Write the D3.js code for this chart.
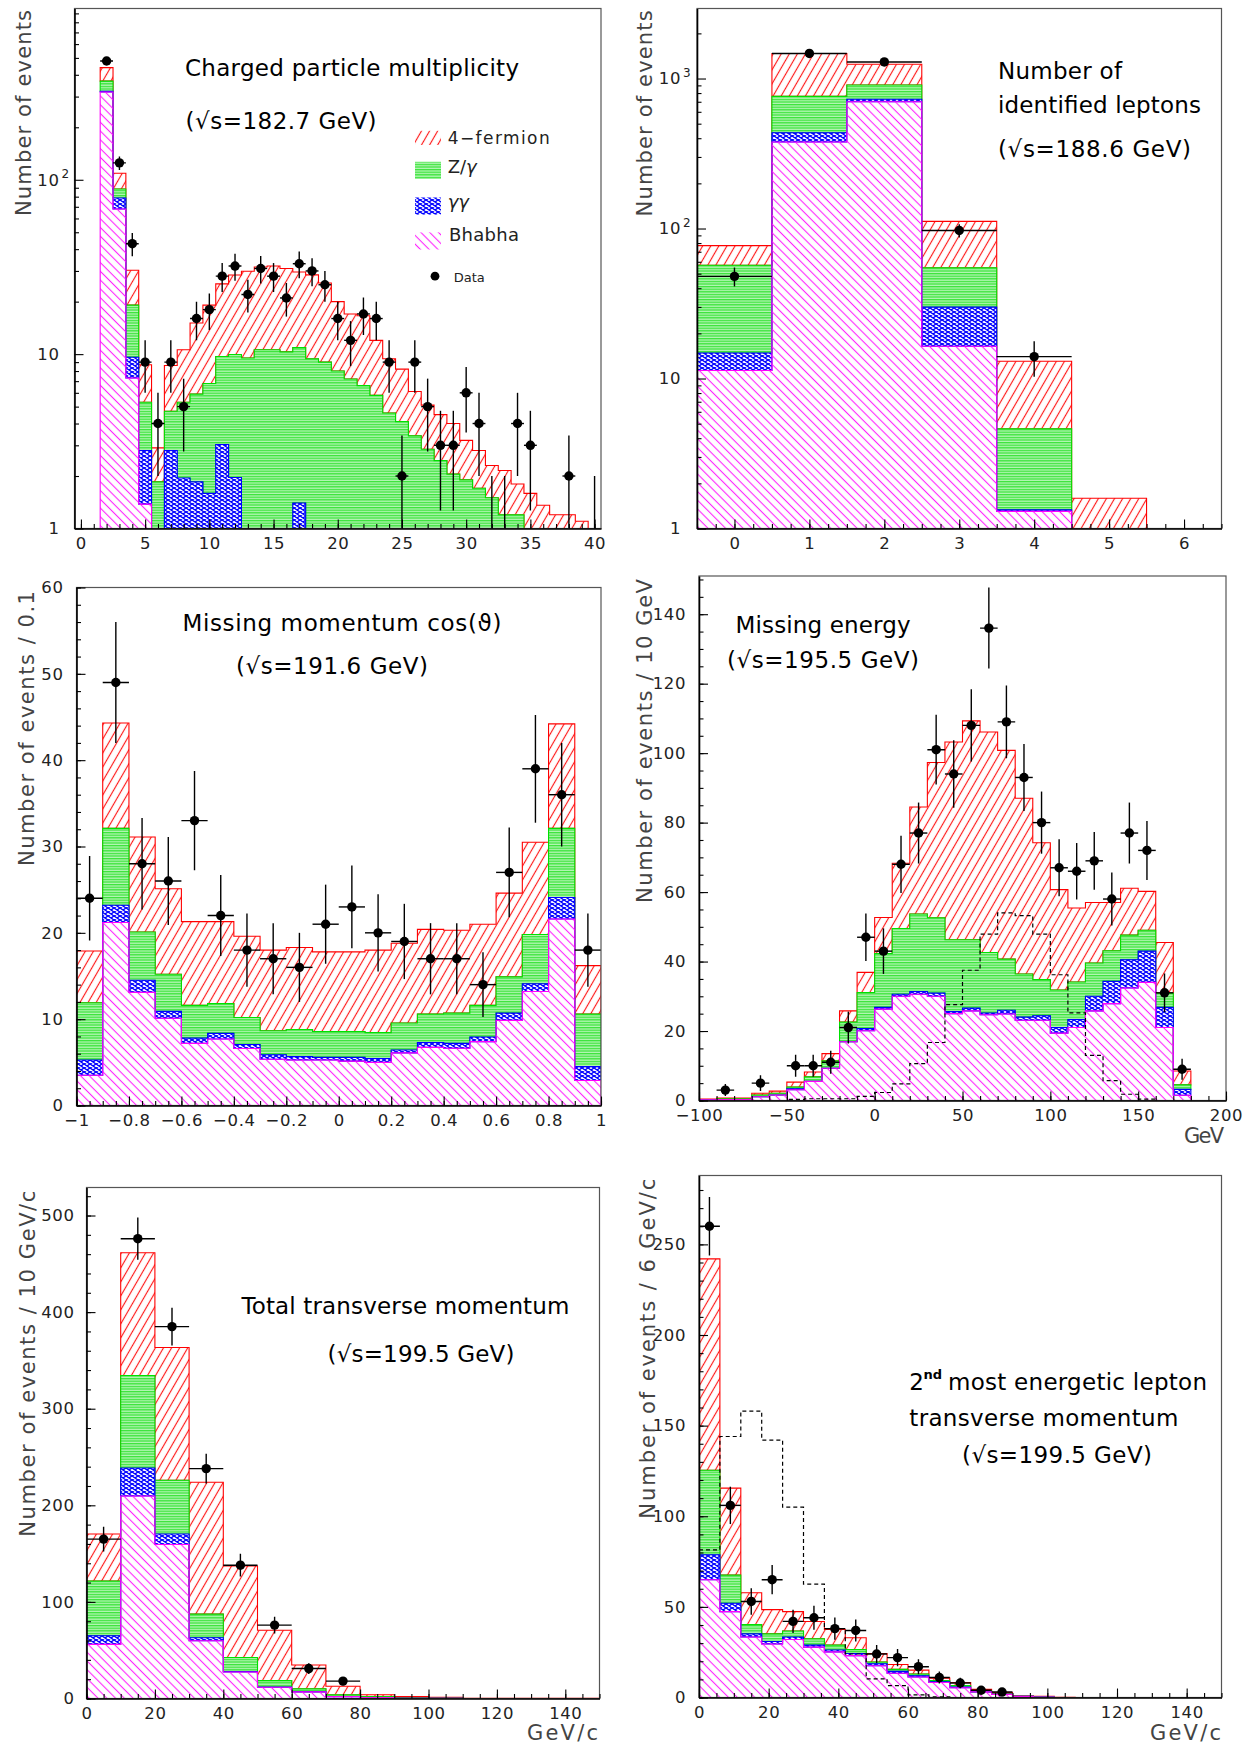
<!DOCTYPE html>
<html><head><meta charset="utf-8">
<script src="https://cdn.jsdelivr.net/npm/d3@7"></script>
<style>
body{margin:0;background:#fff}
svg{display:block}
text{font-family:"DejaVu Sans",sans-serif}
</style>
</head><body>
<svg id="chart" width="1258" height="1745"></svg>
<script>
// ===================== DATA =====================
// Panel 1: charged particle multiplicity (log y), bin centres
const multBins   = [2,3,4,5,6,7,8,9,10,11,12,13,14,15,16,17,18,19,20,21,22,23,24,25,26,27,28,29,30,31,32,33,34,35,36,37,38,39];
const multBhabha = [319,68,7.3,1.38,0,0,0,0,0,0,0,0,0,0,0,0,0,0,0,0,0,0,0,0,0,0,0,0,0,0,0,0,0,0,0,0,0,0];
const multGG     = [3,10.6,2.3,1.42,0,2.8,1.95,1.85,1.59,3.03,1.96,0,0,0,0,1.4,0,0,0,0,0,0,0,0,0,0,0,0,0,0,0,0,0,0,0,0,0,0];
const multZ      = [46,9.9,9.5,2.5,1.85,1.9,3.35,4.05,5.2,6.67,8.0,9.5,10.6,10.6,10.3,9.5,9.4,9.0,8.0,7.2,6.6,5.8,4.6,4.1,3.4,2.85,2.45,2.05,1.9,1.7,1.5,1.2,1.2,0,0,0,0,0];
const multFour   = [72,20.5,11.2,3.4,1.05,3.9,5.3,9.2,12.3,15.6,18.5,20.4,21.0,21.4,20.7,18.7,19.1,16.6,12.0,9.8,10.0,6.2,4.8,4.1,2.7,2.25,2.05,1.95,1.3,1.1,0.8,0.95,0.6,1.59,1.36,1.2,1.2,1.1];
const multDataX  = [2,3,4,5,6,7,8,9,10,11,12,13,14,15,16,17,18,19,20,21,22,23,24,25,26,27,28,29,30,31,32,33,34,35,36,37,38,39,40];
const multData   = [480,125,43,9,4,9,5,16,18,28,32,22,31,28,21,33,30,25,16,12,17,16,9,2,9,5,3,3,6,4,1,1,4,3,0,0,2,0,1];

// Panel 2: number of identified leptons (log y)
const lepBins   = [0,1,2,3,4,5];
const lepBhabha = [11.3,377,700,16.4,1.3,0];
const lepGG     = [3.5,58,28,13.5,0.03,0];
const lepZ      = [42.1,325,178,24.8,3.29,0];
const lepFour   = [20,708,339,56.9,8.4,1.59];
const lepDataX  = [0,1,2,3,4];
const lepData   = [48,1470,1290,97,14];

// Panel 3: missing momentum cos(theta)
const cosBins   = [-0.95,-0.85,-0.75,-0.65,-0.55,-0.45,-0.35,-0.25,-0.15,-0.05,0.05,0.15,0.25,0.35,0.45,0.55,0.65,0.75,0.85,0.95];
const cosBhabha = [3.5,21.2,13.1,10.1,7.2,7.7,6.6,5.36,5.27,5.27,5.14,5.0,6.09,6.73,6.64,7.4,9.86,13.2,21.6,2.9];
const cosGG     = [1.77,2.0,1.4,0.8,0.6,0.66,0.47,0.51,0.39,0.3,0.43,0.44,0.34,0.56,0.56,0.53,0.84,0.9,2.5,1.6];
const cosZ      = [6.63,8.9,5.6,4.3,3.8,3.44,3.13,2.79,3.14,3.0,3.0,3.0,3.13,3.31,3.5,3.67,4.2,5.7,8.0,6.1];
const cosFour   = [6.0,12.2,11.0,9.9,9.7,9.5,9.4,9.34,9.5,9.23,9.23,9.56,9.24,9.8,9.6,9.4,9.7,10.7,12.1,5.6];
const cosData   = [24,49,28,26,33,22,18,17,16,21,23,20,19,17,17,14,27,39,36,18];

// Panel 4: missing energy
const emBins    = [-95,-85,-75,-65,-55,-45,-35,-25,-15,-5,5,15,25,35,45,55,65,75,85,95,105,115,125,135,145,155,165,175];
const emBhabha  = [0.2,0.3,0.3,1.1,1.6,3.1,5.5,9.3,16.9,20.1,26.3,30.0,30.6,30.0,25.0,25.8,24.7,24.9,23.1,23.1,19.4,21.0,25.8,27.9,32.4,34.0,21.0,1.5];
const emGG      = [0,0,0,0,0,0.3,0,0,0,0.6,0.5,0.6,0.8,0.9,0.6,0.8,0.5,1.1,0.9,1.3,1.6,2.3,4.2,6.4,8.1,9.0,5.8,1.7];
const emZ       = [0.1,0.2,0.2,0.5,0.5,0.5,1.3,2.1,5.7,10.4,15.5,18.9,22.3,21.7,20.7,19.7,17.4,14.7,12.4,10.4,10.8,10.8,9.6,8.8,7.1,6.0,4.1,1.3];
const emFour    = [0.1,0.2,0.2,0.5,0.6,1.4,1.4,2.1,3.2,5.8,10.4,18.8,30.8,44.7,56.9,63.0,63.5,60.1,50.6,39.4,28.9,21.3,17.4,13.9,13.5,11.2,14.6,4.0];
const emSignal  = [0,0,0,0,0,0.3,0.5,0.5,0.5,1.2,2.3,4.8,10.6,16.7,27.6,37.5,47.9,54.0,53.2,47.9,36.2,25.2,13.0,5.7,1.8,0.4,0,0];
const emDataX   = [-85,-65,-45,-35,-25,-15,-5,5,15,25,35,45,55,65,75,85,95,105,115,125,135,145,155,165,175];
const emData    = [3,5,10,10,11,21,47,43,68,77,101,94,108,136,109,93,80,67,66,69,58,77,72,31,9];

// Panel 5: total transverse momentum
const ptBins    = [5,15,25,35,45,55,65,75,85,95,105,115,125,135,145];
const ptBhabha  = [56.0,209.7,159.5,59.8,27.4,11.6,6.9,1.9,1.0,0.3,0.2,0,0,0,0];
const ptGG      = [8.9,28.9,10.8,3.1,0.5,0.3,0.2,0.1,0.1,0,0,0,0,0,0];
const ptZ       = [56.7,95.8,55.6,24.4,14.6,6.6,2.9,1.9,0.8,0.3,0.2,0,0,0,0];
const ptFour    = [48.7,127.0,137.4,136.6,94.6,52.2,24.7,8.8,2.0,1.3,0.8,0.3,0.2,0.1,0.1];
const ptDataX   = [5,15,25,35,45,55,65,75];
const ptData    = [165,476,385,238,138,76,31,18];

// Panel 6: 2nd most energetic lepton transverse momentum
const lpBins    = [3,9,15,21,27,33,39,45,51,57,63,69,75,81,87,93,99,105,111,117,123,129,135,141,147];
const lpBhabha  = [65.0,47.4,33.4,29.5,32.0,27.8,25.2,23.1,17.5,13.4,11.3,8.3,5.4,3.1,1.7,0.6,0.3,0,0,0,0,0,0,0,0];
const lpGG      = [13.8,4.6,1.7,1.4,1.4,1.1,1.0,1.2,1.1,1.0,0.7,0.4,0.4,0,0,0,0,0,0,0,0,0,0,0,0];
const lpZ       = [46.6,15.5,5.1,4.2,3.3,3.5,2.7,2.1,1.0,1.1,1.0,0.6,0.8,0.6,0.4,0.2,0.1,0,0,0,0,0,0,0,0];
const lpFour    = [116.6,48.0,17.6,13.4,10.7,9.5,8.6,6.6,4.7,2.7,2.1,1.4,1.7,0.8,0.6,0.2,0.2,0.1,0,0,0,0,0,0,0];
const lpSignal  = [81.5,144,158,142,105,62.5,38,24,10.3,6.6,1.4,0.4,0,0,0,0,0,0,0,0,0,0,0,0,0];
const lpDataX   = [3,9,15,21,27,33,39,45,51,57,63,69,75,81,87];
const lpData    = [260,106,53,65,42,44,38,37,24,22,17,11,8,4,3];

// Tick labels
const multXTicks = [0,5,10,15,20,25,30,35,40];
const logYTicks1 = [1,10,100];
const lepXTicks  = [0,1,2,3,4,5,6];
const logYTicks2 = [1,10,100,1000];
const cosXTicks  = [-1,-0.8,-0.6,-0.4,-0.2,0,0.2,0.4,0.6,0.8,1];
const cosYTicks  = [0,10,20,30,40,50,60];
const emXTicks   = [-100,-50,0,50,100,150,200];
const emYTicks   = [0,20,40,60,80,100,120,140];
const ptXTicks   = [0,20,40,60,80,100,120,140];
const ptYTicks   = [0,100,200,300,400,500];
const lpXTicks   = [0,20,40,60,80,100,120,140];
const lpYTicks   = [0,50,100,150,200,250];

// ===================== DRAWING =====================
const svg = d3.select("#chart");
svg.append("rect").attr("width",1258).attr("height",1745).attr("fill","#fff");
const defs = svg.append("defs");

function linePattern(id, spacing, angle, color, sw) {
  const p = defs.append("pattern").attr("id", id).attr("patternUnits","userSpaceOnUse")
    .attr("width", spacing).attr("height", 20).attr("patternTransform", `rotate(${angle})`);
  p.append("line").attr("x1", spacing/2).attr("x2", spacing/2).attr("y1", -1).attr("y2", 21)
    .attr("stroke", color).attr("stroke-width", sw);
}
linePattern("pFour", 7, 30, "#ff1a1a", 1.15);
linePattern("pBhabha", 6.2, -45, "#ff22ff", 1.1);
{
  const p = defs.append("pattern").attr("id","pZ").attr("patternUnits","userSpaceOnUse").attr("width",4).attr("height",2.6);
  p.append("rect").attr("width",4).attr("height",2.6).attr("fill","#b6f6b6");
  p.append("rect").attr("width",4).attr("height",1.3).attr("fill","#3ae33a");
}
{
  const p = defs.append("pattern").attr("id","pGG").attr("patternUnits","userSpaceOnUse").attr("width",6).attr("height",4);
  p.append("rect").attr("width",6).attr("height",4).attr("fill","#ffffff");
  p.append("path").attr("d","M0,0L6,4M0,4L6,0").attr("stroke","#0000ff").attr("stroke-width",1.4);
}
const fills   = {four:"url(#pFour)", z:"url(#pZ)", gg:"url(#pGG)", bhabha:"url(#pBhabha)"};
const strokes = {four:"#ff0000", z:"#00e000", gg:"#0000ff", bhabha:"#ff00ff"};

const fmtNum = v => (v < 0 ? "\u2212" : "") + String(+Math.abs(v).toFixed(2));

function styleAxis(sel, lw) {
  sel.attr("font-family", null).attr("font-size", null);
  sel.select(".domain").attr("stroke","#000").attr("stroke-width", lw);
  sel.selectAll(".tick line").attr("stroke","#000").attr("stroke-width",1.1);
  sel.selectAll(".tick text").attr("font-family","DejaVu Sans").attr("font-size",16.5)
     .attr("fill","#222").attr("letter-spacing","0.6px");
}

let clipN = 0;
function drawPanel(cfg) {
  const {L,T,R,B} = cfg.frame;
  const x = d3.scaleLinear().domain(cfg.xDomain).range([L,R]);
  const y = cfg.log ? d3.scaleLog().domain(cfg.yDomain).range([B,T])
                    : d3.scaleLinear().domain(cfg.yDomain).range([B,T]);
  const yMin = cfg.yDomain[0];
  const yy = v => y(Math.max(v, yMin));
  const cid = "clip" + (clipN++);
  defs.append("clipPath").attr("id", cid).append("rect")
    .attr("x", L).attr("y", T).attr("width", R-L).attr("height", B-T);
  const g = svg.append("g");
  const gc = g.append("g").attr("clip-path", `url(#${cid})`);

  // stacked histogram
  const rows = cfg.bins.map((c,i) => ({c, bhabha:cfg.bhabha[i], gg:cfg.gg[i], z:cfg.z[i], four:cfg.four[i]}));
  const series = d3.stack().keys(["bhabha","gg","z","four"])(rows);
  const hw = cfg.binWidth/2;
  const area = d3.area().x(p => x(p.x)).y0(p => yy(p.y0)).y1(p => yy(p.y1));
  series.slice().reverse().forEach(s => {
    const pts = [];
    s.forEach(d => {
      pts.push({x:d.data.c-hw, y0:d[0], y1:d[1]});
      pts.push({x:d.data.c+hw, y0:d[0], y1:d[1]});
    });
    gc.append("path").attr("d", area(pts)).attr("fill", fills[s.key])
      .attr("stroke", strokes[s.key]).attr("stroke-width", 1.1);
  });

  // dashed signal histogram
  if (cfg.signal) {
    const pts = [];
    cfg.bins.forEach((c,i) => { pts.push([c-hw, cfg.signal[i]]); pts.push([c+hw, cfg.signal[i]]); });
    gc.append("path").attr("d", d3.line().x(p => x(p[0])).y(p => yy(p[1]))(pts))
      .attr("fill","none").attr("stroke","#000").attr("stroke-width",1.2).attr("stroke-dasharray","4,3");
  }

  // data points
  cfg.dataX.forEach((c,i) => {
    const n = cfg.data[i];
    if (n <= 0) return;
    const e = Math.sqrt(n);
    gc.append("line").attr("x1", x(c)).attr("x2", x(c)).attr("y1", yy(n-e)).attr("y2", yy(n+e))
      .attr("stroke","#000").attr("stroke-width",1.4);
    if (cfg.log && n <= yMin) return;
    gc.append("line").attr("x1", x(c-hw)).attr("x2", x(c+hw)).attr("y1", y(n)).attr("y2", y(n))
      .attr("stroke","#000").attr("stroke-width",1.4);
    gc.append("circle").attr("cx", x(c)).attr("cy", y(n)).attr("r", 4.7).attr("fill","#000");
  });

  // frame
  g.append("rect").attr("x", L).attr("y", T).attr("width", R-L).attr("height", B-T)
    .attr("fill","none").attr("stroke","#555").attr("stroke-width",1.2);

  // x axis
  const xa = g.append("g").attr("transform", `translate(0,${B})`)
    .call(d3.axisBottom(x).tickValues(cfg.xTicks).tickSize(-9).tickSizeOuter(0).tickPadding(9).tickFormat(fmtNum));
  styleAxis(xa, 1.6);
  const xm = g.append("g").attr("transform", `translate(0,${B})`)
    .call(d3.axisBottom(x).tickValues(cfg.xMinor).tickSize(-4.5).tickSizeOuter(0).tickFormat(() => ""));
  xm.select(".domain").remove();
  xm.selectAll(".tick line").attr("stroke","#000").attr("stroke-width",1.1);

  // y axis
  if (cfg.log) {
    const ya = g.append("g").attr("transform", `translate(${L},0)`)
      .call(d3.axisLeft(y).tickValues(cfg.yTicks).tickSize(-9).tickSizeOuter(0).tickFormat(() => ""));
    styleAxis(ya, 1.6);
    const ym = g.append("g").attr("transform", `translate(${L},0)`)
      .call(d3.axisLeft(y).tickValues(cfg.yMinor).tickSize(-4.5).tickSizeOuter(0).tickFormat(() => ""));
    ym.select(".domain").remove();
    ym.selectAll(".tick line").attr("stroke","#000").attr("stroke-width",1.1);
    cfg.yTicks.forEach(v => {
      const ex = Math.round(Math.log10(v));
      const yv = y(v);
      g.append("text").attr("x", L - cfg.yPad).attr("y", yv).attr("dy","0.36em")
        .attr("text-anchor","end").attr("font-size",16.5).attr("fill","#222").attr("letter-spacing","0.6px")
        .text(ex === 0 ? "1" : "10");
      if (ex >= 2) {
        g.append("text").attr("x", L - cfg.yPad + 2).attr("y", yv - 2)
          .attr("font-size",12).attr("fill","#222").text(ex);
      }
    });
  } else {
    const ya = g.append("g").attr("transform", `translate(${L},0)`)
      .call(d3.axisLeft(y).tickValues(cfg.yTicks).tickSize(-9).tickSizeOuter(0).tickPadding(cfg.yPad).tickFormat(fmtNum));
    styleAxis(ya, 1.6);
    const ym = g.append("g").attr("transform", `translate(${L},0)`)
      .call(d3.axisLeft(y).tickValues(cfg.yMinor).tickSize(-4.5).tickSizeOuter(0).tickFormat(() => ""));
    ym.select(".domain").remove();
    ym.selectAll(".tick line").attr("stroke","#000").attr("stroke-width",1.1);
  }

  // y axis title
  g.append("text").attr("transform", `translate(${cfg.yTitle.x},${cfg.yTitle.top}) rotate(-90)`)
    .attr("text-anchor","end").attr("font-size",21).attr("fill","#444")
    .attr("textLength", cfg.yTitle.len).attr("lengthAdjust","spacing").text(cfg.yTitle.text);

  // x unit label
  if (cfg.xTitle) {
    g.append("text").attr("x", cfg.xTitle.x - cfg.xTitle.len).attr("y", cfg.xTitle.y)
      .attr("font-size",21).attr("fill","#444").attr("textLength", cfg.xTitle.len)
      .attr("lengthAdjust","spacing").text(cfg.xTitle.text);
  }
  return g;
}

function label(x, y, text, len, size) {
  const t = svg.append("text").attr("x", x).attr("y", y).attr("font-size", size || 23).attr("fill","#000").text(text);
  if (len) t.attr("textLength", len).attr("lengthAdjust","spacing");
  return t;
}

// Panel 1
drawPanel({
  frame:{L:74.5,T:8.5,R:601,B:528.5}, xDomain:[-0.5,40.5], yDomain:[1,960], log:true,
  bins:multBins, bhabha:multBhabha, gg:multGG, z:multZ, four:multFour, binWidth:1,
  dataX:multDataX, data:multData,
  xTicks:multXTicks, xMinor:d3.range(0,41,1), yTicks:logYTicks1,
  yMinor:[2,3,4,5,6,7,8,9,20,30,40,50,60,70,80,90,200,300,400,500,600,700,800,900], yPad:15,
  yTitle:{x:31, top:10, len:206, text:"Number of events"}
});
label(185, 76, "Charged particle multiplicity", 334);
label(185.6, 128.5, "(\u221As=182.7 GeV)", 191);
// legend
const lg = svg.append("g");
[["four",130.8,145],["z",161.8,179],["gg",197.5,214.6],["bhabha",232.4,249.5]].forEach(([k,y0,y1]) => {
  lg.append("rect").attr("x",415).attr("y",y0).attr("width",26).attr("height",y1-y0).attr("fill",fills[k]);
});
lg.append("text").attr("x",447.7).attr("y",144).attr("font-size",17).attr("fill","#222")
  .attr("textLength",102).attr("lengthAdjust","spacing").text("4\u2212fermion");
{
  const t = lg.append("text").attr("x",447.7).attr("y",172.5).attr("font-size",18).attr("fill","#222");
  t.append("tspan").text("Z/");
  t.append("tspan").attr("font-style","italic").text("\u03B3");
  const t2 = lg.append("text").attr("x",447.7).attr("y",207.5).attr("font-size",18).attr("fill","#222")
    .attr("font-style","italic").text("\u03B3\u03B3");
}
lg.append("text").attr("x",449).attr("y",241.3).attr("font-size",18).attr("fill","#222")
  .attr("textLength",70).attr("lengthAdjust","spacing").text("Bhabha");
lg.append("circle").attr("cx",435).attr("cy",276.2).attr("r",4.4).attr("fill","#000");
lg.append("text").attr("x",453.7).attr("y",281.6).attr("font-size",13).attr("fill","#222").text("Data");

// Panel 2
drawPanel({
  frame:{L:697,T:8.5,R:1221.5,B:528.5}, xDomain:[-0.5,6.5], yDomain:[1,2930], log:true,
  bins:lepBins, bhabha:lepBhabha, gg:lepGG, z:lepZ, four:lepFour, binWidth:1,
  dataX:lepDataX, data:lepData,
  xTicks:lepXTicks, xMinor:d3.range(-0.5,6.51,0.25), yTicks:logYTicks2,
  yMinor:[2,3,4,5,6,7,8,9,20,30,40,50,60,70,80,90,200,300,400,500,600,700,800,900,2000], yPad:16,
  yTitle:{x:652, top:10.4, len:206, text:"Number of events"}
});
label(998, 79, "Number of", 124);
label(998, 112.8, "identified leptons", 203);
label(998, 157, "(\u221As=188.6 GeV)", 193);

// Panel 3
drawPanel({
  frame:{L:76.5,T:587.5,R:601,B:1105.5}, xDomain:[-1,1], yDomain:[0,60], log:false,
  bins:cosBins, bhabha:cosBhabha, gg:cosGG, z:cosZ, four:cosFour, binWidth:0.1,
  dataX:cosBins, data:cosData,
  xTicks:cosXTicks, xMinor:d3.range(-1,1.001,0.05), yTicks:cosYTicks, yMinor:d3.range(0,60.1,2), yPad:13,
  yTitle:{x:33.5, top:591, len:275, text:"Number of events / 0.1"}
});
label(182.4, 630.6, "Missing momentum cos(\u03D1)", 319);
label(236, 674.3, "(\u221As=191.6 GeV)", 192);

// Panel 4
drawPanel({
  frame:{L:699,T:576,R:1226,B:1100.5}, xDomain:[-100,200], yDomain:[0,151], log:false,
  bins:emBins, bhabha:emBhabha, gg:emGG, z:emZ, four:emFour, binWidth:10, signal:emSignal,
  dataX:emDataX, data:emData,
  xTicks:emXTicks, xMinor:d3.range(-100,201,10), yTicks:emYTicks, yMinor:d3.range(0,151,5), yPad:13,
  yTitle:{x:652, top:579, len:324, text:"Number of events / 10 GeV"},
  xTitle:{x:1224, y:1143, len:40, text:"GeV"}
});
label(735.6, 632.5, "Missing energy", 175);
label(727, 667.6, "(\u221As=195.5 GeV)", 192);

// Panel 5
drawPanel({
  frame:{L:86.5,T:1187.5,R:599.5,B:1698.5}, xDomain:[0,150], yDomain:[0,529], log:false,
  bins:ptBins, bhabha:ptBhabha, gg:ptGG, z:ptZ, four:ptFour, binWidth:10,
  dataX:ptDataX, data:ptData,
  xTicks:ptXTicks, xMinor:d3.range(0,151,5), yTicks:ptYTicks, yMinor:d3.range(0,529,20), yPad:12,
  yTitle:{x:35, top:1190.7, len:346, text:"Number of events / 10 GeV/c"},
  xTitle:{x:598, y:1740, len:71, text:"GeV/c"}
});
label(241.4, 1313.6, "Total transverse momentum", 328);
label(327.5, 1362, "(\u221As=199.5 GeV)", 187);

// Panel 6
drawPanel({
  frame:{L:699,T:1175.5,R:1221.5,B:1697.5}, xDomain:[0,150], yDomain:[0,288], log:false,
  bins:lpBins, bhabha:lpBhabha, gg:lpGG, z:lpZ, four:lpFour, binWidth:6, signal:lpSignal,
  dataX:lpDataX, data:lpData,
  xTicks:lpXTicks, xMinor:d3.range(0,151,5), yTicks:lpYTicks, yMinor:d3.range(0,288,10), yPad:13,
  yTitle:{x:655, top:1178.7, len:340, text:"Number of events / 6 GeV/c"},
  xTitle:{x:1221, y:1740, len:71, text:"GeV/c"}
});
label(909.3, 1389.7, "2");
svg.append("text").attr("x",923.5).attr("y",1379).attr("font-size",13).attr("font-weight","bold").attr("fill","#000").text("nd");
label(948, 1389.7, "most energetic lepton", 259);
label(909.3, 1425.9, "transverse momentum", 269);
label(962, 1462.5, "(\u221As=199.5 GeV)", 190);
</script>
</body></html>
